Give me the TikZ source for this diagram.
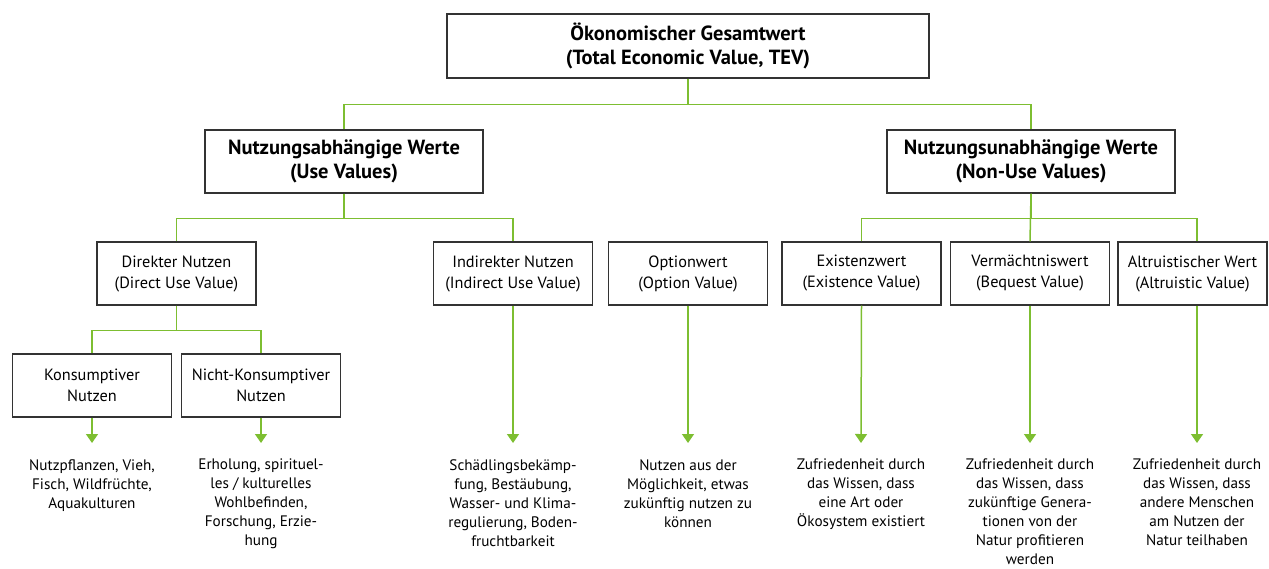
\documentclass[tikz,border=0pt]{standalone}
\usepackage{fontspec}
\setmainfont{PT Sans}
\usetikzlibrary{arrows.meta}
\definecolor{lgreen}{HTML}{7DBE31}
\definecolor{boxline}{HTML}{333333}
\tikzset{
  box/.style={draw=boxline, line width=1.4pt, fill=white, align=center, inner sep=0pt},
  hbox/.style={box, font=\fontsize{20.5}{24}\selectfont\bfseries},
  sbox/.style={box, minimum width=159pt, minimum height=63pt, font=\fontsize{16.3}{21}\selectfont},
  desc/.style={align=center, anchor=north, inner xsep=0pt, inner ysep=16pt, font=\fontsize{15.2}{19}\selectfont},
  conn/.style={draw=lgreen, line width=1.5pt},
  arr/.style={conn, -{Triangle[width=12pt,length=9pt]}}
}
\begin{document}
\begin{tikzpicture}[x=1pt,y=-1pt]
\useasboundingbox (0,0) rectangle (1269,568);
% header boxes
\node[hbox, minimum width=482pt, minimum height=64pt] (tev) at (688,46) {Ökonomischer Gesamtwert\\(Total Economic Value, TEV)};
\node[hbox, minimum width=278pt, minimum height=63pt] (use) at (344,161.5) {Nutzungsabhängige Werte\\(Use Values)};
\node[hbox, minimum width=288pt, minimum height=63pt] (nonuse) at (1031,161.5) {Nutzungsunabhängige Werte\\(Non-Use Values)};
% second level
\node[sbox] (direct) at (176.5,273.5) {Direkter Nutzen\\(Direct Use Value)};
\node[sbox] (indirect) at (513,273.5) {Indirekter Nutzen\\(Indirect Use Value)};
\node[sbox] (option) at (688,273.5) {Optionwert\\(Option Value)};
\node[sbox] (exist) at (861.5,273.5) {Existenzwert\\(Existence Value)};
\node[sbox] (bequest) at (1030,273.5) {Vermächtniswert\\(Bequest Value)};
\node[sbox, minimum width=149pt] (altru) at (1192.5,273.5) {Altruistischer Wert\\(Altruistic Value)};
% third level
\node[sbox] (kons) at (92,385.5) {Konsumptiver\\Nutzen};
\node[sbox] (nkons) at (261,385.5) {Nicht-Konsumptiver\\Nutzen};
% descriptions
\node[desc] (d1) at (92,443) {Nutzpflanzen, Vieh,\\Fisch, Wildfrüchte,\\Aquakulturen};
\node[desc] (d2) at (261,443) {Erholung, spirituel-\\les / kulturelles\\Wohlbefinden,\\Forschung, Erzie-\\hung};
\node[desc] (d3) at (513,443) {Schädlingsbekämp-\\fung, Bestäubung,\\Wasser- und Klima-\\regulierung, Boden-\\fruchtbarkeit};
\node[desc] (d4) at (688,443) {Nutzen aus der\\Möglichkeit, etwas\\zukünftig nutzen zu\\können};
\node[desc] (d5) at (861,443) {Zufriedenheit durch\\das Wissen, dass\\eine Art oder\\Ökosystem existiert};
\node[desc] (d6) at (1030,443) {Zufriedenheit durch\\das Wissen, dass\\zukünftige Genera-\\tionen von der\\Natur profitieren\\werden};
\node[desc] (d7) at (1197,443) {Zufriedenheit durch\\das Wissen, dass\\andere Menschen\\am Nutzen der\\Natur teilhaben};
% tree connectors
\draw[conn] (tev.south) -- ++(0,26) -| (use.north);
\draw[conn] (tev.south) -- ++(0,26) -| (nonuse.north);
\draw[conn] (use.south) -- ++(0,25) -| (direct.north);
\draw[conn] (use.south) -- ++(0,25) -| (indirect.north);
\draw[conn] (nonuse.south) -- ++(0,25) -| (exist.north);
\draw[conn] (nonuse.south) -- (bequest.north);
\draw[conn] (nonuse.south) -- ++(0,25) -| ([xshift=4.5pt]altru.north);
\draw[conn] (direct.south) -- ++(0,25) -| (kons.north);
\draw[conn] (direct.south) -- ++(0,25) -| (nkons.north);
% arrows
\draw[arr] (kons.south) -- (d1.north);
\draw[arr] (nkons.south) -- (d2.north);
\draw[arr] (indirect.south) -- (d3.north);
\draw[arr] (option.south) -- (d4.north);
\draw[arr] (exist.south) -- (d5.north);
\draw[arr] (bequest.south) -- (d6.north);
\draw[arr] ([xshift=4.5pt]altru.south) -- (d7.north);
\end{tikzpicture}
\end{document}
